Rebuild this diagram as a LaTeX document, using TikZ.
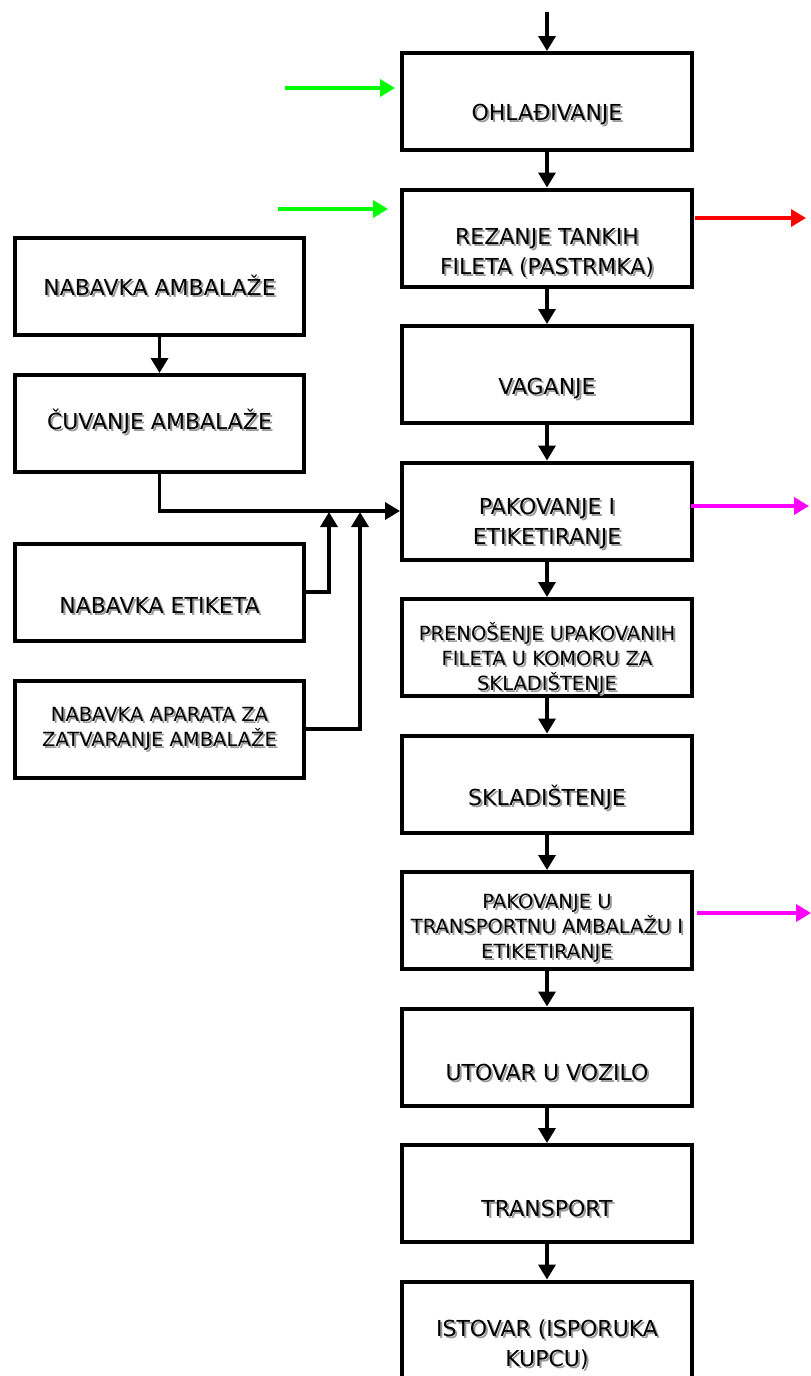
\documentclass[tikz,border=0pt]{standalone}
\usepackage{fontspec}
\setmainfont{DejaVu Sans}
\usetikzlibrary{arrows.meta,positioning,calc}
\definecolor{ingreen}{RGB}{0,255,0}
\definecolor{outred}{RGB}{255,0,0}
\definecolor{outmag}{RGB}{255,0,255}

% text with a grey drop shadow
\newcommand{\shlabel}[4][big]{%
  \node[#1,text=black!40] (#2s) at ($(#3)+(2,2)$) {#4};
  \node[#1] (#2) at (#3) {#4};}

\begin{document}
\begin{tikzpicture}[x=1pt,y=-1pt,
  box/.style={draw,line width=4pt,minimum width=290pt,minimum height=97pt,inner sep=0pt},
  big/.style={align=center,inner sep=0pt,font=\fontsize{22}{30}\selectfont},
  small/.style={align=center,inner sep=0pt,font=\fontsize{19.5}{25}\selectfont},
  arr/.style={line width=3.5pt,-{Triangle[length=15pt,width=17pt]}}]
 \useasboundingbox (0,0) rectangle (811,1376);

 % ---- main column ----
 \foreach \n [count=\i] in {ohl,rez,vag,pak,pren,skl,paku,utov,tran,isto}
   \node[box] (\n) at (547,{101.5+136.5*(\i-1)}) {};
 \shlabel{ohlt}{547,115}{OHLAĐIVANJE}
 \shlabel{rezt}{547,253}{REZANJE TANKIH\\FILETA (PASTRMKA)}
 \shlabel{vagt}{547,389}{VAGANJE}
 \shlabel{pakt}{547,523.5}{PAKOVANJE I\\ETIKETIRANJE}
 \shlabel[small]{prent}{547,658}{PRENOŠENJE UPAKOVANIH\\FILETA U KOMORU ZA\\SKLADIŠTENJE}
 \shlabel{sklt}{547,797}{SKLADIŠTENJE}
 \shlabel[small]{pakut}{547,928}{PAKOVANJE U\\TRANSPORTNU AMBALAŽU I\\ETIKETIRANJE}
 \shlabel{utovt}{547,1072}{UTOVAR U VOZILO}
 \shlabel{trant}{547,1208}{TRANSPORT}
 \shlabel{istot}{547,1345}{ISTOVAR (ISPORUKA\\KUPCU)}

 % ---- left column ----
 \node[box,minimum width=289pt] (nabamb) at (159.5,286.5) {};
 \node[box,minimum width=289pt] (cuv) at (159.5,423.5) {};
 \node[box,minimum width=289pt] (nabet) at (159.5,592) {};
 \node[box,minimum width=289pt] (nabap) at (159.5,729) {};
 \shlabel{nabambt}{159.5,285}{NABAVKA AMBALAŽE}
 \shlabel{cuvt}{159.5,421.5}{ČUVANJE AMBALAŽE}
 \shlabel{nabett}{159.5,605}{NABAVKA ETIKETA}
 \shlabel[small]{nabapt}{159.5,728.5}{NABAVKA APARATA ZA\\ZATVARANJE AMBALAŽE}

 % ---- flow ----
 \coordinate (start) at (547,12);
 \draw[arr] (start) -- (ohl);
 \foreach \a/\b in {ohl/rez,rez/vag,vag/pak,pak/pren,pren/skl,skl/paku,paku/utov,utov/tran,tran/isto}
   \draw[arr] (\a) -- (\b);
 \draw[arr] (nabamb) -- (cuv);
 \draw[arr] (cuv) |- (pak.west);
 \coordinate (j1) at (329,512);
 \coordinate (j2) at (360,512);
 \draw[arr] (nabet.east) -| (j1);
 \draw[arr] (nabap.east) -| (j2);

 % ---- inputs / outputs ----
 \coordinate (g1a) at (285,88);  \coordinate (g1b) at (395,88);
 \coordinate (g2a) at (278,209); \coordinate (g2b) at (388,209);
 \coordinate (r1a) at (695,218); \coordinate (r1b) at (806,218);
 \coordinate (m1a) at (691,506); \coordinate (m1b) at (809,506);
 \coordinate (m2a) at (697,913); \coordinate (m2b) at (811,913);
 \draw[arr,ingreen] (g1a) -- (g1b);
 \draw[arr,ingreen] (g2a) -- (g2b);
 \draw[arr,outred] (r1a) -- (r1b);
 \draw[arr,outmag] (m1a) -- (m1b);
 \draw[arr,outmag] (m2a) -- (m2b);
\end{tikzpicture}
\end{document}
